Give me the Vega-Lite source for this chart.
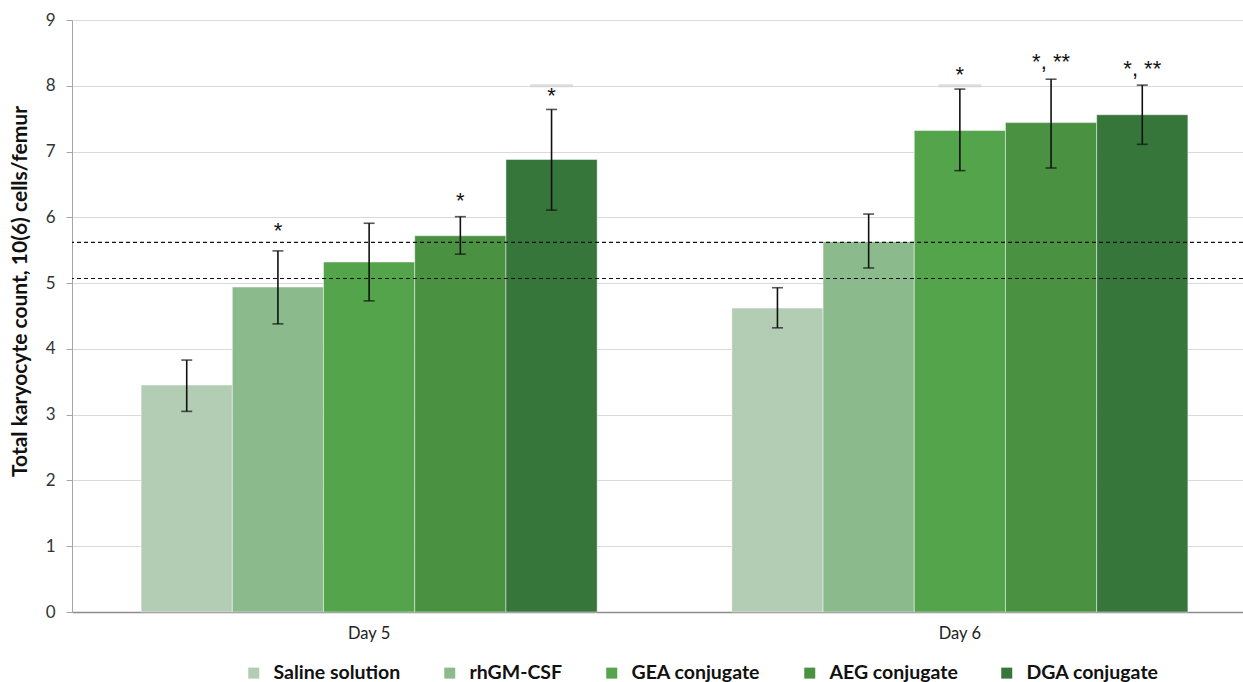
{
  "$schema": "https://vega.github.io/schema/vega-lite/v6.json",
  "autosize": "none",
  "width": 1185,
  "height": 592,
  "padding": {"left": 72, "top": 20, "right": 0, "bottom": 70},
  "config": {
    "view": {"stroke": null},
    "font": "Lato",
    "axis": {"labelFont": "Lato", "titleFont": "Lato"},
    "legend": {"labelFont": "Lato"}
  },
  "datasets": {
    "bars": [
      {"day": "Day 5", "group": "Saline solution", "value": 3.45, "lo": 3.05, "hi": 3.83},
      {"day": "Day 5", "group": "rhGM-CSF", "value": 4.94, "lo": 4.38, "hi": 5.49},
      {"day": "Day 5", "group": "GEA conjugate", "value": 5.32, "lo": 4.73, "hi": 5.91},
      {"day": "Day 5", "group": "AEG conjugate", "value": 5.72, "lo": 5.44, "hi": 6.01},
      {"day": "Day 5", "group": "DGA conjugate", "value": 6.88, "lo": 6.11, "hi": 7.64},
      {"day": "Day 6", "group": "Saline solution", "value": 4.62, "lo": 4.32, "hi": 4.93},
      {"day": "Day 6", "group": "rhGM-CSF", "value": 5.63, "lo": 5.23, "hi": 6.05},
      {"day": "Day 6", "group": "GEA conjugate", "value": 7.32, "lo": 6.71, "hi": 7.95},
      {"day": "Day 6", "group": "AEG conjugate", "value": 7.44, "lo": 6.75, "hi": 8.1},
      {"day": "Day 6", "group": "DGA conjugate", "value": 7.56, "lo": 7.11, "hi": 8.01}
    ],
    "stars": [
      {"day": "Day 5", "group": "rhGM-CSF", "y": 5.68, "label": "*"},
      {"day": "Day 5", "group": "AEG conjugate", "y": 6.14, "label": "*"},
      {"day": "Day 5", "group": "DGA conjugate", "y": 7.74, "label": "*"},
      {"day": "Day 6", "group": "GEA conjugate", "y": 8.05, "label": "*"},
      {"day": "Day 6", "group": "AEG conjugate", "y": 8.25, "label": "*, **"},
      {"day": "Day 6", "group": "DGA conjugate", "y": 8.15, "label": "*, **"}
    ],
    "marks8": [
      {"day": "Day 5", "group": "DGA conjugate", "y": 8},
      {"day": "Day 6", "group": "GEA conjugate", "y": 8}
    ],
    "refs": [
      {"level": 5.62},
      {"level": 5.07}
    ]
  },
  "encoding": {
    "x": {
      "field": "day", "type": "nominal",
      "scale": {"paddingInner": 0.228, "paddingOuter": 0.117},
      "axis": {
        "title": null, "labelAngle": 0, "ticks": false, "labelFontSize": 16.5,
        "labelColor": "#222", "labelPadding": 13, "domainColor": "#8c8c8c", "domainWidth": 1.5
      }
    },
    "xOffset": {
      "field": "group", "type": "nominal",
      "sort": ["Saline solution", "rhGM-CSF", "GEA conjugate", "AEG conjugate", "DGA conjugate"],
      "scale": {"paddingInner": 0, "paddingOuter": 0}
    }
  },
  "layer": [
    {
      "data": {"name": "bars"},
      "mark": {"type": "bar", "stroke": "#ffffff", "strokeOpacity": 0.45, "strokeWidth": 1},
      "encoding": {
        "y": {
          "field": "value", "type": "quantitative",
          "scale": {"domain": [0, 9], "nice": false},
          "axis": {
            "values": [0, 1, 2, 3, 4, 5, 6, 7, 8, 9], "format": "d",
            "title": "Total karyocyte count, 10(6) cells/femur",
            "titleFontSize": 21, "titleFontWeight": "bold", "titleColor": "#111",
            "titleX": -52, "titleY": 271, "titleAlign": "center", "titleBaseline": "middle", "titleAngle": -90,
            "labelFontSize": 17, "labelColor": "#333", "labelPadding": 11,
            "tickSize": 6, "tickColor": "#a6a6a6", "domainColor": "#a6a6a6",
            "gridColor": "#d9d9d9", "gridWidth": 1
          }
        },
        "color": {
          "field": "group", "type": "nominal",
          "sort": ["Saline solution", "rhGM-CSF", "GEA conjugate", "AEG conjugate", "DGA conjugate"],
          "scale": {
            "domain": ["Saline solution", "rhGM-CSF", "GEA conjugate", "AEG conjugate", "DGA conjugate"],
            "range": ["#b2cdb4", "#8bba8d", "#54a44b", "#4a9142", "#36763a"]
          },
          "legend": {
            "title": null, "orient": "none", "direction": "horizontal",
            "legendX": 172, "legendY": 643,
            "symbolType": "square", "symbolSize": 121, "symbolStrokeWidth": 0,
            "labelFontSize": 19.5, "labelFontWeight": "bold", "labelColor": "#111",
            "labelOffset": 10, "columnPadding": 39
          }
        }
      }
    },
    {
      "data": {"name": "refs"},
      "mark": {"type": "rule", "color": "#111", "strokeDash": [4, 3], "strokeWidth": 1.2},
      "encoding": {
        "y": {"field": "level", "type": "quantitative"},
        "x": null,
        "xOffset": null
      }
    },
    {
      "data": {"name": "marks8"},
      "mark": {"type": "tick", "color": "#d0d0d0", "size": 43, "thickness": 3},
      "encoding": {"y": {"field": "y", "type": "quantitative"}}
    },
    {
      "data": {"name": "bars"},
      "mark": {"type": "rule", "color": "#111", "strokeWidth": 1.6},
      "encoding": {
        "y": {"field": "lo", "type": "quantitative"},
        "y2": {"field": "hi"}
      }
    },
    {
      "data": {"name": "bars"},
      "mark": {"type": "tick", "color": "#111", "size": 11, "thickness": 1.6},
      "encoding": {"y": {"field": "lo", "type": "quantitative"}}
    },
    {
      "data": {"name": "bars"},
      "mark": {"type": "tick", "color": "#111", "size": 11, "thickness": 1.6},
      "encoding": {"y": {"field": "hi", "type": "quantitative"}}
    },
    {
      "data": {"name": "stars"},
      "mark": {"type": "text", "font": "Liberation Sans", "fontSize": 22, "color": "#111", "baseline": "alphabetic", "align": "center"},
      "encoding": {
        "y": {"field": "y", "type": "quantitative"},
        "text": {"field": "label"}
      }
    }
  ]
}
